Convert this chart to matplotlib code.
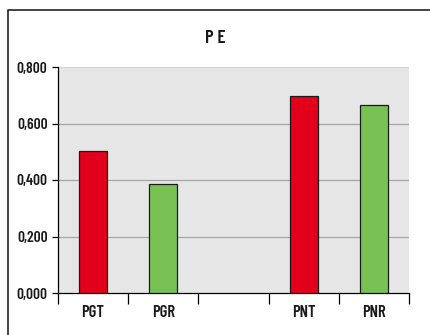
import numpy as np
import matplotlib.pyplot as plt
from matplotlib.lines import Line2D
from matplotlib.ticker import FuncFormatter

# data
categories = ["PGT", "PGR", "", "PNT", "PNR"]
values = [0.503, 0.387, np.nan, 0.697, 0.665]
bar_colors = ["#E2001A", "#7AC153", "#E2001A", "#E2001A", "#7AC153"]
y_ticks = [0.0, 0.2, 0.4, 0.6, 0.8]

plt.rcParams["font.family"] = ["Barlow Condensed", "DejaVu Sans"]

fig = plt.figure(figsize=(4.30, 3.35), dpi=100)
fig.patch.set_facecolor("white")
ax = fig.add_axes([58 / 430, 42 / 335, 351 / 430, 226 / 335])
ax.set_facecolor("#E6E6E6")

x = np.arange(len(categories))
ax.bar(x, values, width=0.4, color=bar_colors, edgecolor="#1a1a1a",
       linewidth=0.9, zorder=3)

ax.set_xlim(-0.5, len(categories) - 0.5)
ax.set_ylim(0, 0.8)
ax.set_yticks(y_ticks)
ax.yaxis.set_major_formatter(FuncFormatter(lambda v, p: f"{v:.3f}".replace(".", ",")))
for t in y_ticks[1:-1]:
    ax.axhline(t, color="#A6A6A6", linewidth=0.9, zorder=1)
ax.axhline(0.8, color="#D4D4D4", linewidth=0.8, zorder=1)

ax.set_xticks(x)
ax.set_xticklabels(categories)
ax.set_xticks(np.arange(len(categories) + 1) - 0.5, minor=True)
ax.tick_params(axis="x", which="major", length=0, pad=8.5)
ax.tick_params(axis="x", which="minor", length=8, width=0.9, color="black")
ax.tick_params(axis="y", length=4.5, width=0.9, pad=3)
for lab in ax.get_yticklabels():
    lab.set_fontweight("semibold")
    lab.set_fontsize(11)
    lab.set_color("#1a1a1a")
for lab in ax.get_xticklabels():
    lab.set_fontweight("semibold")
    lab.set_fontsize(12)
    lab.set_color("#1a1a1a")

for s in ["top", "right"]:
    ax.spines[s].set_visible(False)
for s in ["left", "bottom"]:
    ax.spines[s].set_linewidth(0.9)
    ax.spines[s].set_color("black")

fig.text(215.5 / 430, 1 - 38.5 / 335, "P E", ha="center", va="center",
         fontsize=13.5, fontweight="semibold", color="#1a1a1a")

# outer frame (only left and top edges visible in the crop)
fig.add_artist(Line2D([8 / 430, 8 / 430, 1.0], [0.0, 1 - 10 / 335, 1 - 10 / 335],
                      transform=fig.transFigure, color="#222222", linewidth=1.2))

fig.savefig("out.png", dpi=100)
